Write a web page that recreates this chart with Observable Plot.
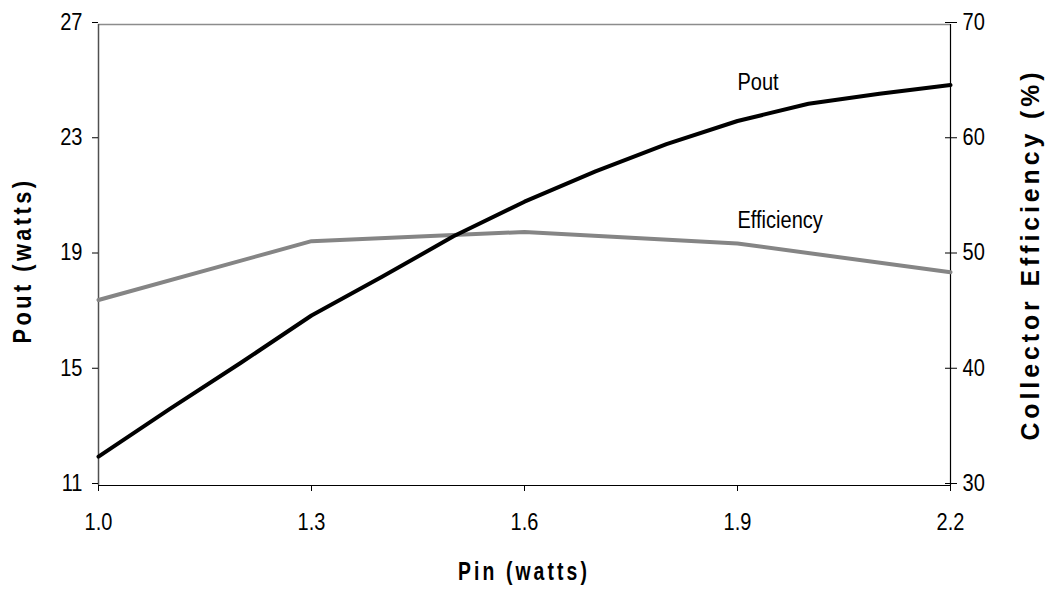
<!DOCTYPE html>
<html><head><meta charset="utf-8">
<script src="https://cdn.jsdelivr.net/npm/d3@7"></script>
<script src="https://cdn.jsdelivr.net/npm/@observablehq/plot@0.6"></script>
<style>
html,body{margin:0;padding:0;background:#fff;}
#chart svg{display:block;}
</style></head><body><div id="chart"></div>
<script>
// ---- data ----
const pinTicks = [1.0, 1.3, 1.6, 1.9, 2.2];
const poutTicks = [11, 15, 19, 23, 27];
const effTicks = [30, 40, 50, 60, 70];
const pinPout = [1.0, 1.1, 1.2, 1.3, 1.4, 1.5, 1.6, 1.7, 1.8, 1.9, 2.0, 2.1, 2.2];
const poutValues = [12.0, 13.65, 15.25, 16.9, 18.25, 19.65, 20.85, 21.9, 22.85, 23.65, 24.25, 24.6, 24.9];
const pinEff = [1.0, 1.3, 1.6, 1.9, 2.2];
const effValues = [46.1, 51.2, 52.0, 51.0, 48.5];
const seriesLabels = ["Pout", "Efficiency"];
const labelPin = 1.9;
const xTitle = "Pin (watts)";
const yTitle = "Pout (watts)";
const y2Title = "Collector Efficiency (%)";

// ---- helpers ----
const W = 1060, H = 589;
const M = {left: 98, right: 110, top: 24, bottom: 104};
const poutDomain = [poutTicks[0], poutTicks[poutTicks.length - 1]];
const effDomain = [effTicks[0], effTicks[effTicks.length - 1]];
const pinDomain = [pinTicks[0], pinTicks[pinTicks.length - 1]];
const effToPout = e => poutDomain[0] + (e - effDomain[0]) * (poutDomain[1] - poutDomain[0]) / (effDomain[1] - effDomain[0]);
const poutToEff = p => effDomain[0] + (p - poutDomain[0]) * (effDomain[1] - effDomain[0]) / (poutDomain[1] - poutDomain[0]);

const poutData = pinPout.map((x, i) => ({x, y: poutValues[i]}));
const effData = pinEff.map((x, i) => ({x, y: effToPout(effValues[i])}));
const labelData = [
  {name: seriesLabels[0], x: labelPin, y: poutValues[pinPout.indexOf(labelPin)], dy: -31},
  {name: seriesLabels[1], x: labelPin, y: effToPout(effValues[pinEff.indexOf(labelPin)]), dy: -15}
];

const font = "'Liberation Sans', Arial, sans-serif";
const FS = 23;

const chart = Plot.plot({
  width: W,
  height: H,
  marginLeft: M.left,
  marginRight: M.right,
  marginTop: M.top,
  marginBottom: M.bottom,
  style: {fontFamily: font, fontSize: FS + "px", color: "#000", background: "#fff", overflow: "visible"},
  x: {domain: pinDomain},
  y: {domain: poutDomain},
  marks: [
    // frame lines
    Plot.ruleY([poutDomain[1]], {stroke: "#8c8c8c", strokeWidth: 1.5}),
    Plot.ruleX([pinDomain[0]], {stroke: "#505050", strokeWidth: 1.5}),
    Plot.ruleX([pinDomain[1]], {stroke: "#000", strokeWidth: 1.2}),
    Plot.ruleY([poutDomain[0]], {stroke: "#000", strokeWidth: 1.2}),
    // axes
    Plot.axisX({ticks: pinTicks, tickFormat: d3.format(".1f"), tickSize: 6, tickPadding: 22,
      label: null, fontSize: FS}),
    Plot.axisY({anchor: "left", ticks: poutTicks, tickFormat: d => String(d), tickSize: 6, tickPadding: 10, dy: -2,
      label: null, fontSize: FS}),
    Plot.axisY({anchor: "right", ticks: poutTicks, tickFormat: d => String(Math.round(poutToEff(d))),
      tickSize: 12, insetRight: 6, tickPadding: 6, dy: -2, label: null, fontSize: FS}),
    // series
    Plot.line(effData, {x: "x", y: "y", stroke: "#858585", strokeWidth: 4, strokeLinejoin: "round"}),
    Plot.line(poutData, {x: "x", y: "y", stroke: "#000", strokeWidth: 4, strokeLinejoin: "round"}),
    // series labels
    Plot.text(labelData, {x: "x", y: "y", text: "name", textAnchor: "start", lineAnchor: "bottom", fontSize: FS, fill: "#000"})
  ]
});

document.getElementById("chart").appendChild(chart);

// shift series labels by their offsets
chart.querySelectorAll("g[aria-label='text'] text").forEach((t, i) => {
  const d = labelData[i];
  if (d) t.setAttribute("transform", (t.getAttribute("transform") || "") + ` translate(0,${d.dy})`);
});

// horizontally condensed look of the reference's text
const squeeze = 0.87;
chart.querySelectorAll("g[aria-label$='tick label'] text, g[aria-label='text'] text").forEach(t => {
  const len = t.getComputedTextLength();
  t.setAttribute("textLength", (len * squeeze).toFixed(1));
  t.setAttribute("lengthAdjust", "spacingAndGlyphs");
});

// axis titles
const svg = d3.select(chart);
const plotMidY = M.top + (H - M.bottom - M.top) / 2;
const plotMidX = M.left + (W - M.right - M.left) / 2;
function title(txt, transform, length) {
  svg.append("text")
    .attr("transform", transform)
    .attr("text-anchor", "middle")
    .attr("font-family", font).attr("font-size", 25).attr("font-weight", "bold")
    .attr("letter-spacing", "4px")
    .attr("textLength", length).attr("lengthAdjust", "spacingAndGlyphs")
    .attr("fill", "#000")
    .text(txt);
}
title(xTitle, `translate(${plotMidX},580)`, 132);
title(yTitle, `translate(31,${plotMidY + 6}) rotate(-90)`, 166);
title(y2Title, `translate(1039,${plotMidY}) rotate(-90)`, 372);
</script>
</body></html>
